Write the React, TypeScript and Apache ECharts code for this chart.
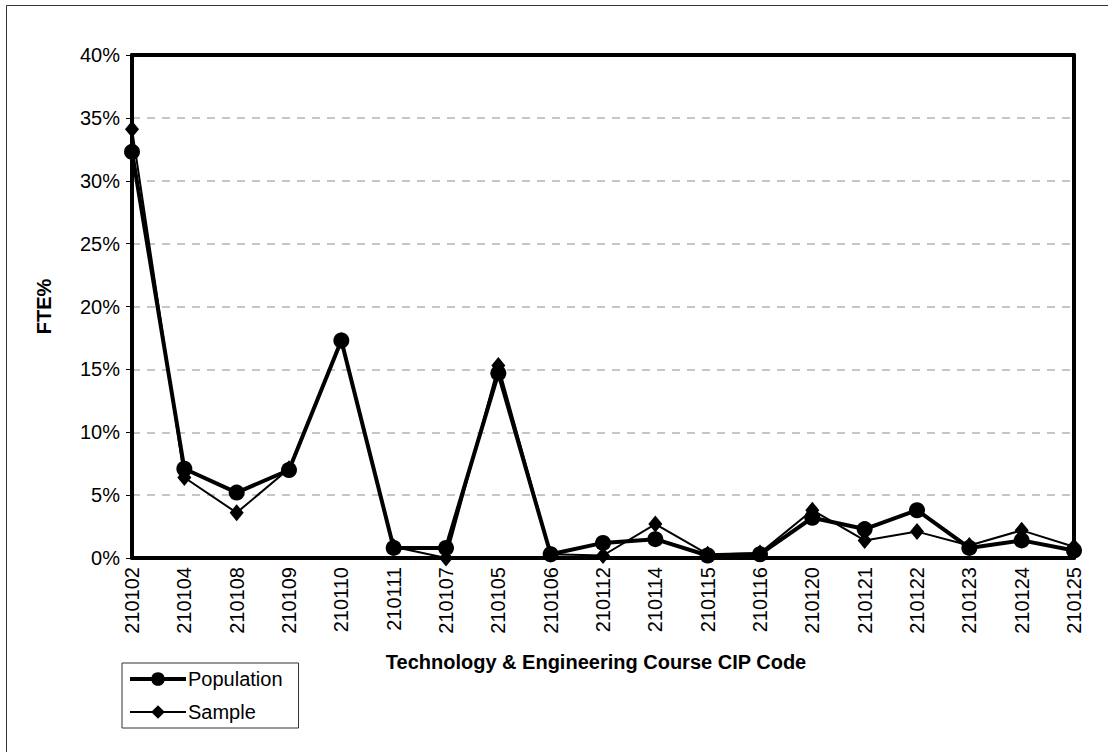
import React, { useEffect, useRef } from "react";
import * as echarts from "echarts";

const categories = [
  "210102", "210104", "210108", "210109", "210110", "210111", "210107", "210105",
  "210106", "210112", "210114", "210115", "210116", "210120", "210121", "210122",
  "210123", "210124", "210125",
];
const population = [32.3, 7.1, 5.2, 7.0, 17.3, 0.8, 0.8, 14.7, 0.3, 1.2, 1.5, 0.2, 0.3, 3.2, 2.3, 3.8, 0.8, 1.4, 0.6];
const sample = [34.1, 6.4, 3.6, 7.1, 17.3, 0.9, 0.0, 15.3, 0.3, 0.2, 2.7, 0.3, 0.4, 3.8, 1.4, 2.1, 1.0, 2.2, 0.9];
const yTicks = { min: 0, max: 40, interval: 5 };

const FONT = "Liberation Sans, Arial, sans-serif";

export default function App() {
  const ref = useRef<HTMLDivElement>(null);
  useEffect(() => {
    if (!ref.current) return;
    const chart = echarts.init(ref.current, null, { renderer: "svg" });
    const frameLine = { show: true, onZero: false, lineStyle: { color: "#000", width: 4 } };
    chart.setOption({
      animation: false,
      backgroundColor: "#fff",
      textStyle: { fontFamily: FONT, color: "#000" },
      grid: { left: 132, right: 34, top: 55, bottom: 194 },
      legend: {
        orient: "vertical",
        left: 122, top: 663,
        itemWidth: 56, itemHeight: 17, itemGap: 13,
        borderColor: "#333", borderWidth: 1,
        padding: [6, 16, 6, 6],
        textStyle: { fontSize: 20, fontFamily: FONT, color: "#000", padding: [0, 0, 0, -3] },
        data: [
          { name: "Population", lineStyle: { width: 4, color: "#000" }, itemStyle: { color: "#000" } },
          { name: "Sample", lineStyle: { width: 2, color: "#000" }, itemStyle: { color: "#000" } },
        ],
      },
      xAxis: [
        {
          type: "category",
          data: categories,
          boundaryGap: false,
          z: 5,
          axisLine: frameLine,
          axisTick: { show: false },
          axisLabel: { rotate: 90, fontSize: 20, fontFamily: FONT, color: "#000", margin: 9, interval: 0 },
          splitLine: { show: false },
        },
        {
          type: "category",
          data: categories,
          boundaryGap: false,
          position: "top",
          z: 5,
          axisLine: frameLine,
          axisTick: { show: false },
          axisLabel: { show: false },
          splitLine: { show: false },
        },
      ],
      yAxis: [
        {
          type: "value",
          min: yTicks.min, max: yTicks.max, interval: yTicks.interval,
          name: "FTE%",
          nameLocation: "middle",
          nameGap: 78,
          nameTextStyle: { fontSize: 20, fontWeight: "bold", fontFamily: FONT, color: "#000" },
          axisLine: frameLine,
          axisTick: { show: true, length: 6, lineStyle: { color: "#000", width: 1 } },
          axisLabel: { fontSize: 20, fontFamily: FONT, color: "#000", margin: 12, formatter: (v: number) => `${v}%` },
          splitLine: { show: true, lineStyle: { color: "#b4b4b4", type: [8, 7], width: 1.5 } },
        },
        {
          type: "value",
          min: yTicks.min, max: yTicks.max, interval: yTicks.interval,
          position: "right",
          z: 5,
          axisLine: frameLine,
          axisTick: { show: false },
          axisLabel: { show: false },
          splitLine: { show: false },
        },
      ],
      graphic: [
        {
          type: "rect",
          shape: { x: 6.5, y: 5.5, width: 1300, height: 1000 },
          style: { fill: "none", stroke: "#333", lineWidth: 1 },
          silent: true,
        },
        {
          type: "text",
          x: 596, y: 662,
          style: {
            text: "Technology & Engineering Course CIP Code",
            font: `bold 20px ${FONT}`,
            fill: "#000",
            align: "center",
            verticalAlign: "middle",
          },
        },
      ],
      series: [
        {
          name: "Population",
          type: "line",
          data: population,
          symbol: "circle",
          symbolSize: 16,
          z: 6,
          lineStyle: { color: "#000", width: 4 },
          itemStyle: { color: "#000" },
        },
        {
          name: "Sample",
          type: "line",
          data: sample,
          symbol: "diamond",
          symbolSize: [14, 17],
          z: 6,
          lineStyle: { color: "#000", width: 2 },
          itemStyle: { color: "#000" },
        },
      ],
    });
    return () => chart.dispose();
  }, []);
  return (
    <div
      ref={ref}
      style={{ position: "absolute", left: 0, top: 0, width: 1108, height: 752 }}
    />
  );
}
